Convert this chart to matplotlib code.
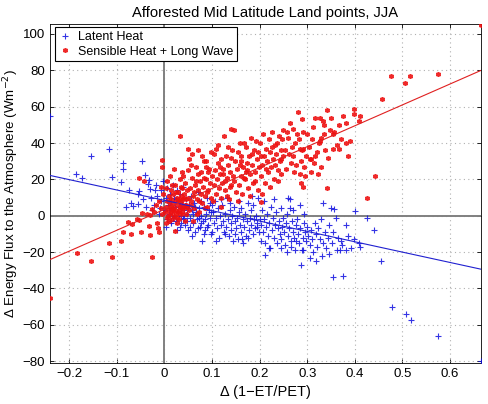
import matplotlib
matplotlib.use("Agg")
import matplotlib.pyplot as plt
import numpy as np

plt.rcParams["font.family"] = ["Liberation Sans", "DejaVu Sans"]

TITLE = "Afforested Mid Latitude Land points, JJA"
XLABEL = "\u0394 (1\u2212ET/PET)"
YLABEL = "\u0394 Energy Flux to the Atmosphere (Wm$^{-2}$)"
XTICKS = [-0.2, -0.1, 0, 0.1, 0.2, 0.3, 0.4, 0.5, 0.6]
XTICKLABELS = ["\u22120.2", "\u22120.1", "0", "0.1", "0.2", "0.3", "0.4", "0.5", "0.6"]
YTICKS = [-80, -60, -40, -20, 0, 20, 40, 60, 80, 100]
YTICKLABELS = ["\u221280", "\u221260", "\u221240", "\u221220", "0", "20", "40", "60", "80", "100"]

# fitted lines (intercept, slope)
latent_fit = (8.5, -57.0)
sensible_fit = (3.5, 115.0)

# Sensible heat + long wave, (d(1-ET/PET), flux)
sensible_lw = [
    (-0.24, -45), (-0.184, -20.7), (-0.153, -24.9), (-0.109, -22.5), (-0.116, -14.8),
    (-0.090, -13.7), (-0.086, -8.8), (-0.076, -3.3), (-0.068, -4.6), (-0.070, -10.2),
    (-0.053, -2.4), (-0.047, 1.3), (-0.058, -1.7), (-0.048, -9.1), (-0.053, 20.5),
    (-0.043, 19.0), (-0.037, 1.0), (-0.032, -5.7), (-0.030, -10.6), (-0.025, -22.9),
    (-0.021, 2.0), (-0.016, -3.8), (-0.014, -6.9), (-0.011, -8.8), (-0.004, 26.6),
    (-0.004, 30.6), (-0.008, 4.5), (-0.012, 8), (-0.018, 6), (-0.025, 3.5),
    (-0.030, 0.5), (-0.005, 1), (-0.002, 12), (-0.006, 16), (0.022, -8.2), (0.032, 43.8),
    (0.002, 2), (0.004, 5), (0.005, -1), (0.006, 8), (0.007, 0), (0.008, 3), (0.009, 11),
    (0.010, -3), (0.011, 6), (0.012, 1), (0.013, 14), (0.014, 4), (0.015, 9), (0.016, -2),
    (0.017, 2), (0.018, 7), (0.019, 12), (0.020, 0), (0.021, 5), (0.022, 3), (0.023, 17),
    (0.024, 8), (0.025, 1), (0.026, 10), (0.027, -1), (0.028, 6), (0.029, 13), (0.030, 3),
    (0.031, 9), (0.032, 20), (0.033, 5), (0.034, 1), (0.035, 11), (0.036, 7), (0.037, 15),
    (0.038, 2), (0.039, 9), (0.040, 22), (0.041, 4), (0.042, 12), (0.043, 6), (0.044, 18),
    (0.045, 1), (0.046, 9), (0.047, 14), (0.048, 5), (0.049, 25), (0.050, 10),
    (0.003, 15), (0.006, 19), (0.012, 22), (0.016, 17), (0.020, 26), (0.026, -4),
    (0.030, -2), (0.034, 16), (0.038, 24), (0.044, -3), (0.004, -4), (0.010, 8),
    (0.015, 5), (0.019, 3), (0.024, 13), (0.028, 2), (0.033, 8), (0.037, 4), (0.041, 10),
    (0.045, 6),
    (0.052, 3), (0.054, 15), (0.056, 8), (0.058, 21), (0.060, 11), (0.062, 4), (0.064, 17),
    (0.066, 27), (0.068, 9), (0.070, 14), (0.072, 2), (0.074, 19), (0.076, 12), (0.078, 24),
    (0.080, 7), (0.082, 16), (0.084, 30), (0.086, 11), (0.088, 20), (0.090, 5), (0.092, 14),
    (0.094, 26), (0.096, 18), (0.098, 10), (0.100, 22), (0.055, 28), (0.061, -3),
    (0.067, 19), (0.073, 8), (0.079, 33), (0.085, 4), (0.091, 24), (0.097, 35), (0.063, 13),
    (0.071, 23), (0.083, 21), (0.089, 13), (0.057, 6), (0.069, 1), (0.087, 27),
    (0.049, 37), (0.070, 36), (0.088, 30), (0.051, 31), (0.058, 34),
    (0.102, 8), (0.104, 17), (0.105, 34), (0.106, 25), (0.108, 12), (0.109, 37), (0.110, 20),
    (0.112, 29), (0.114, 15), (0.116, 23), (0.118, 10), (0.120, 31), (0.122, 18), (0.124, 26),
    (0.126, 44), (0.128, 14), (0.130, 33), (0.132, 21), (0.134, 28), (0.136, 9), (0.138, 24),
    (0.140, 48), (0.141, 17), (0.143, 36), (0.145, 22), (0.147, 47), (0.148, 30), (0.150, 13),
    (0.113, 39), (0.119, 5), (0.127, 19), (0.133, 38), (0.139, 32), (0.146, 19), (0.123, 23),
    (0.131, 11), (0.137, 16), (0.117, 27),
    (0.152, 26), (0.154, 35), (0.156, 17), (0.158, 40), (0.160, 22), (0.162, 30), (0.164, 12),
    (0.166, 27), (0.168, 40), (0.170, 20), (0.172, 38), (0.174, 25), (0.176, 15), (0.178, 33),
    (0.180, 23), (0.182, 43), (0.184, 28), (0.186, 18), (0.188, 36), (0.190, 24), (0.192, 41),
    (0.194, 31), (0.196, 14), (0.198, 27), (0.200, 40), (0.155, 8), (0.161, 33), (0.167, 21),
    (0.173, 29), (0.179, 11), (0.185, 34), (0.191, 19), (0.197, 35), (0.159, 28), (0.171, 24),
    (0.202, 22), (0.204, 33), (0.206, 28), (0.208, 45), (0.210, 33), (0.212, 18), (0.214, 37),
    (0.216, 30), (0.218, 24), (0.220, 42), (0.222, 35), (0.224, 27), (0.226, 46), (0.228, 31),
    (0.230, 20), (0.232, 39), (0.234, 34), (0.236, 40), (0.238, 25), (0.240, 44), (0.242, 30),
    (0.244, 36), (0.246, 23), (0.248, 42), (0.250, 33), (0.205, 12), (0.213, 26), (0.221, 16),
    (0.227, 38), (0.233, 28), (0.239, 19), (0.245, 31), (0.249, 47), (0.203, 7.7),
    (0.253, 36), (0.257, 46), (0.260, 43), (0.263, 51), (0.266, 29), (0.268, 38), (0.270, 33),
    (0.272, 24), (0.275, 40), (0.278, 45), (0.280, 57), (0.282, 42), (0.284, 37), (0.286, 30),
    (0.288, 18), (0.289, 53), (0.290, 36), (0.291, 46), (0.292, 37), (0.294, 27), (0.296, 22),
    (0.298, 33), (0.300, 45), (0.255, 26), (0.262, 34), (0.271, 48), (0.277, 28), (0.284, 23),
    (0.291, 16),
    (0.303, 38), (0.306, 31), (0.309, 31), (0.310, 42), (0.313, 49), (0.315, 29), (0.316, 33),
    (0.317, 54), (0.320, 35), (0.322, 23), (0.324, 40), (0.326, 41), (0.326, 54), (0.330, 43),
    (0.333, 52), (0.336, 45), (0.336, 50), (0.338, 36), (0.341, 15), (0.342, 58), (0.344, 32),
    (0.347, 47), (0.350, 54), (0.308, 24), (0.328, 27),
    (0.354, 45), (0.354, 37), (0.357, 46), (0.362, 39), (0.366, 37), (0.366, 50), (0.371, 42),
    (0.375, 55), (0.382, 40), (0.382, 51), (0.385, 33), (0.390, 41), (0.398, 56), (0.399, 59),
    (0.408, 52), (0.411, 55), (0.426, 10), (0.442, 22), (0.457, 64),
    (0.476, 77), (0.506, 73), (0.516, 77), (0.575, 78), (0.665, 105),
]

# Latent heat, (d(1-ET/PET), flux)
latent = [
    (-0.24, 55), (-0.186, 22.9), (-0.172, 21), (-0.154, 32.8), (-0.116, 36.5), (-0.109, 21.4),
    (-0.086, 29.3), (-0.086, 25.5), (-0.091, 18.4), (-0.075, 14.1), (-0.070, 6.8),
    (-0.066, 5.5), (-0.056, 6.5), (-0.081, 4.9), (-0.047, 30.2), (-0.040, 22.7),
    (-0.032, 19.5), (-0.035, 17.6), (-0.030, 14.6), (-0.020, 14.3), (-0.053, 13.6),
    (-0.056, 12.0), (-0.045, 9), (-0.038, 5), (-0.028, 10), (-0.022, 6), (-0.015, 11),
    (-0.010, 4), (-0.006, 8), (-0.012, 1), (-0.025, 3), (-0.018, 17), (-0.006, 14),
    (-0.002, 19),
    (0.002, 3), (0.004, 10), (0.005, -2), (0.006, 15), (0.008, 6), (0.010, 1), (0.011, 12),
    (0.013, -4), (0.014, 8), (0.016, 3), (0.018, 17), (0.019, -1), (0.021, 10), (0.023, 5),
    (0.025, -3), (0.026, 14), (0.028, 2), (0.030, 8), (0.032, -6), (0.033, 12), (0.035, 0),
    (0.037, 6), (0.039, -2), (0.040, 16), (0.042, 3), (0.044, -5), (0.046, 9), (0.048, 1),
    (0.050, -8), (0.052, 6), (0.054, -1), (0.056, 11), (0.058, 3), (0.060, -4), (0.062, 7),
    (0.064, -9), (0.066, 2), (0.068, -2), (0.070, 13), (0.072, 4), (0.074, -6), (0.076, 0),
    (0.078, 8), (0.080, -14), (0.082, -3), (0.084, 5), (0.086, -8), (0.088, 1), (0.090, 10),
    (0.092, -5), (0.094, 3), (0.096, -1), (0.098, -10), (0.100, 6),
    (0.003, -6), (0.009, 4), (0.015, -3), (0.020, 0), (0.027, -8), (0.034, 4), (0.041, -1),
    (0.047, -3), (0.053, -6), (0.059, -11), (0.065, 5), (0.071, -7), (0.077, -4),
    (0.083, -10), (0.089, -6), (0.095, 7), (0.012, 6), (0.024, 9), (0.036, -4), (0.049, 4),
    (0.061, 1), (0.073, -1), (0.085, -2), (0.097, 2),
    (0.101, -9), (0.103, 2), (0.105, -4), (0.107, 8), (0.109, -1), (0.111, -7), (0.113, 4),
    (0.115, -12), (0.117, 0), (0.119, -5), (0.121, 6), (0.123, -3), (0.125, -9), (0.127, 1),
    (0.129, -6), (0.131, 10), (0.133, -2), (0.135, -11), (0.137, 3), (0.139, -4), (0.141, -8),
    (0.143, 0), (0.145, -14), (0.147, 5), (0.149, -3), (0.151, -7), (0.153, -1),
    (0.154, -13), (0.156, 2), (0.158, -5), (0.160, -9), (0.162, 4), (0.163, -13), (0.165, -2),
    (0.167, -6), (0.169, 1), (0.171, -11), (0.173, -3), (0.175, 7), (0.177, -8), (0.179, -1),
    (0.181, -5), (0.183, 3), (0.184, 11), (0.186, -10), (0.188, -2), (0.190, -7), (0.192, 0),
    (0.194, -4), (0.196, 10), (0.198, -9), (0.200, -2), (0.108, -14), (0.118, 9),
    (0.128, -10), (0.138, 7), (0.148, -10), (0.157, 8), (0.166, -15), (0.176, -12),
    (0.187, 6), (0.195, -6),
    (0.202, -5), (0.203, -13.7), (0.205, 3), (0.207, -9), (0.209, -2), (0.211, -15),
    (0.212, -21.6), (0.214, -6), (0.216, 1), (0.218, -11), (0.220, -4), (0.222, -17.5),
    (0.224, 5), (0.226, -8), (0.228, -1), (0.230, -12), (0.232, -5), (0.234, 2), (0.236, -15),
    (0.238, -7), (0.240, -3), (0.242, -10), (0.244, 4), (0.246, -13), (0.248, -6), (0.250, -1),
    (0.252, -9), (0.254, -16), (0.256, -4), (0.258, 1), (0.259, 10), (0.260, -11),
    (0.262, -7), (0.263, 9), (0.263, 4), (0.265, -14), (0.267, -17), (0.269, -3), (0.271, -9),
    (0.273, -12), (0.275, -19), (0.277, -5), (0.279, -2), (0.281, -10), (0.283, -15),
    (0.284, 6), (0.285, -7), (0.287, -27), (0.289, -19), (0.291, -19), (0.291, -12),
    (0.293, -4), (0.295, -9), (0.297, -14), (0.299, -6), (0.210, 8), (0.219, -18),
    (0.231, 9), (0.245, -18), (0.257, -20), (0.270, 3), (0.276, -14), (0.294, 1),
    (0.302, -11), (0.305, -16), (0.308, -8), (0.311, -13), (0.313, -20), (0.316, -4),
    (0.318, -10), (0.320, -17), (0.323, -7), (0.326, -13), (0.329, -2), (0.333, 7),
    (0.334, -15), (0.337, -9), (0.340, -18), (0.343, -12), (0.346, -5), (0.350, 4),
    (0.357, 3.5), (0.360, -1.4), (0.354, -33.5), (0.362, -19), (0.368, -19), (0.371, -14),
    (0.373, -16), (0.375, -33), (0.382, -5), (0.382, -19), (0.385, -11), (0.392, -18),
    (0.398, -13), (0.400, 2.5), (0.409, -15), (0.411, -17), (0.426, -1.2), (0.441, -8),
    (0.456, -25), (0.478, -50), (0.507, -54), (0.517, -57.5), (0.575, -66), (0.665, -80),
    (0.306, -23), (0.318, -25), (0.331, -22), (0.345, -21), (0.355, -9), (0.365, -12),
    (0.352, -15),
]

XLIM = (-0.24, 0.665)
YLIM = (-81, 105.5)

sx, sy = np.array(sensible_lw).T
lx, ly = np.array(latent).T

fig = plt.figure(figsize=(4.88, 4.04), dpi=100)
ax = fig.add_axes([0.1025, 0.1015, 0.8832, 0.8391])

ax.grid(True, color="#b0b0b0", linestyle=(0, (1, 3)), linewidth=0.8)
ax.set_axisbelow(True)
ax.axhline(0, color="#808080", linewidth=1.4, zorder=1)
ax.axvline(0, color="#808080", linewidth=1.4, zorder=1)

ax.plot(lx, ly, linestyle="none", marker="+", color="#1010e0", markersize=4,
        markeredgewidth=0.8, alpha=0.85, label="Latent Heat", zorder=3)
ax.plot(sx, sy, linestyle="none", marker=(6, 2, 0), color="#ee1111", markersize=3.5,
        markeredgewidth=1.1, alpha=0.9, label="Sensible Heat + Long Wave", zorder=4)

xf = np.array(XLIM)
ax.plot(xf, latent_fit[0] + latent_fit[1] * xf, color="#2020d0", linewidth=0.8, zorder=5)
ax.plot(xf, sensible_fit[0] + sensible_fit[1] * xf, color="#e02020", linewidth=0.8, zorder=5)

ax.set_xlim(*XLIM)
ax.set_ylim(*YLIM)
ax.set_xticks(XTICKS)
ax.set_xticklabels(XTICKLABELS)
ax.set_yticks(YTICKS)
ax.set_yticklabels(YTICKLABELS)
ax.tick_params(direction="in", length=3, width=0.6, labelsize=9.5, top=True, right=True)
for sp in ax.spines.values():
    sp.set_linewidth(0.6)

ax.set_title(TITLE, fontsize=10.6, pad=5)
ax.set_xlabel(XLABEL, fontsize=10.5, labelpad=4)
ax.set_ylabel(YLABEL, fontsize=9.6)
ax.yaxis.set_label_coords(-0.068, 0.5)

leg = ax.legend(loc="upper left", bbox_to_anchor=(0.012, 0.99), fontsize=9,
                frameon=True, fancybox=False, edgecolor="black", framealpha=1,
                handlelength=1.0, handletextpad=0.5, borderpad=0.3, labelspacing=0.2,
                borderaxespad=0.0)
leg.get_frame().set_linewidth(0.8)

fig.savefig("out.png", dpi=100)
